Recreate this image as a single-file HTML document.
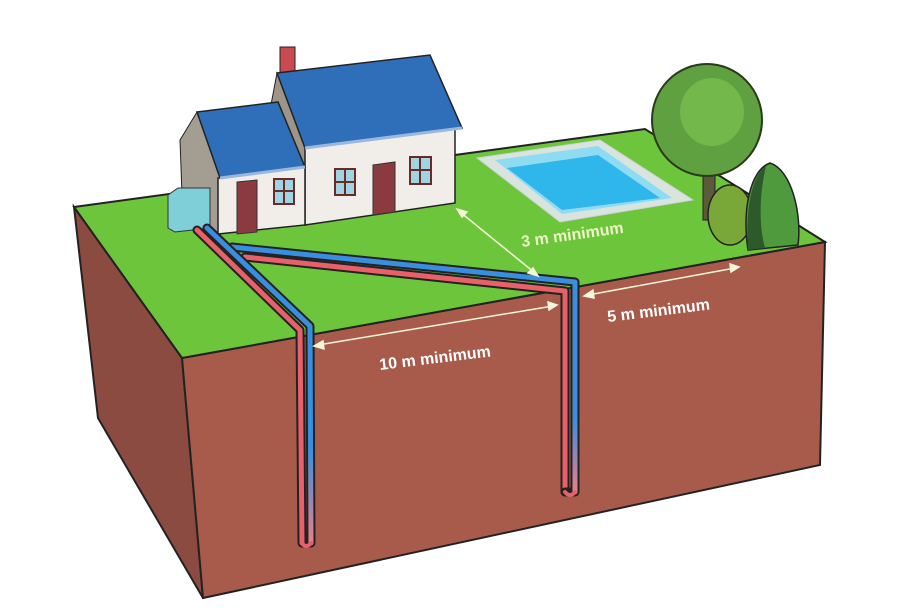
<!DOCTYPE html>
<html><head><style>html,body{margin:0;padding:0;background:#fff}svg{display:block}</style></head>
<body>
<svg width="910" height="615" viewBox="0 0 910 615" xmlns="http://www.w3.org/2000/svg">
<defs>
<linearGradient id="bl" x1="0" y1="0" x2="0" y2="1"><stop offset="0.7" stop-color="#3a8ee0"/><stop offset="1" stop-color="#e8808a"/></linearGradient>
</defs>
<!-- block -->
<polygon points="74,207 98,418 203,598 182,358" fill="#8c4b40" stroke="#222" stroke-width="2"/>
<polygon points="182,358 825,242 820,465 203,598" fill="#a85b4b" stroke="#222" stroke-width="2"/>
<polygon points="74,207 645,129 825,242 182,358" fill="#6cc53a" stroke="#222" stroke-width="2"/>
<!-- pool -->
<polygon points="477,158 600,140 693,200 560,222" fill="#d9e4df" stroke="#c9d2cf"/>
<polygon points="495,160 598,146 672,198 562,214" fill="#8fdcf2"/>
<polygon points="507,168 598,155 660,198 562,210" fill="#2fb6ea"/>
<!-- tree -->
<rect x="703" y="170" width="12" height="50" fill="#5d5a3a" stroke="#222"/>
<ellipse cx="707" cy="120" rx="55" ry="56" fill="#5fa040" stroke="#2a3a1a" stroke-width="2"/>
<ellipse cx="712" cy="112" rx="32" ry="34" fill="#72b84a"/>
<ellipse cx="730" cy="215" rx="22" ry="30" fill="#7aa838" stroke="#222" stroke-width="1.5"/>
<path d="M748,250 C742,210 750,170 770,163 C792,170 802,215 798,245 Z" fill="#4f9a3c" stroke="#222" stroke-width="1.5"/>
<path d="M748,250 C745,210 752,175 766,166 C758,200 760,230 765,248 Z" fill="#2d5a2a"/>
<!-- house main -->
<polygon points="277,73 305,148 305,225 276,215 270,110" fill="#9d9587" stroke="#222"/>
<rect x="280" y="47" width="15" height="28" fill="#c94a50" stroke="#222"/>
<polygon points="305,148 455,128 455,203 305,225" fill="#f1ede8" stroke="#222" stroke-width="1.5"/>
<polygon points="277,73 430,55 462,128 305,148" fill="#2f6fba" stroke="#222" stroke-width="1.5"/>
<line x1="305" y1="148" x2="462" y2="128" stroke="#9ab8dc" stroke-width="3"/>
<!-- left wing -->
<polygon points="180,140 197,112 220,178 220,233 183,222" fill="#a39d92" stroke="#222"/>
<polygon points="218,178 305,167 305,225 218,234" fill="#f1ede8" stroke="#222" stroke-width="1.5"/>
<polygon points="197,112 278,102 305,167 220,178" fill="#2f6fba" stroke="#222" stroke-width="1.5"/>
<line x1="220" y1="178" x2="305" y2="167" stroke="#9ab8dc" stroke-width="3"/>
<!-- doors windows -->
<polygon points="237,182 257,180 257,232 237,234" fill="#8b3a40" stroke="#333"/>
<polygon points="373,165 395,162 395,212 373,215" fill="#8b3a40" stroke="#333"/>
<g fill="#9fd4e0" stroke="#6a2a2a" stroke-width="2">
<rect x="274" y="179" width="20" height="25"/><rect x="335" y="169" width="20" height="26"/><rect x="410" y="157" width="21" height="27"/>
</g>
<g stroke="#6a2a2a" stroke-width="2">
<line x1="284" y1="179" x2="284" y2="204"/><line x1="274" y1="191" x2="294" y2="191"/>
<line x1="345" y1="169" x2="345" y2="195"/><line x1="335" y1="182" x2="355" y2="182"/>
<line x1="420" y1="157" x2="420" y2="184"/><line x1="410" y1="170" x2="431" y2="170"/>
</g>
<!-- unit -->
<polygon points="168,195 178,188 210,188 210,228 175,232 168,228" fill="#7fcfd8" stroke="#333"/>
<!-- pipes -->
<g fill="none" stroke-linejoin="round" stroke-linecap="round">
<path d="M245,257 L565,291 L565,492" stroke="#222" stroke-width="9"/>
<path d="M245,257 L565,291 L565,492" stroke="#e8606a" stroke-width="5"/>
<path d="M232,247 L575,282 L575,492 L565,492" stroke="#222" stroke-width="9"/>
<path d="M232,247 L575,282 L575,492" stroke="url(#bl)" stroke-width="5"/>
<path d="M197,230 L300,330 L302,543 L310,543" stroke="#222" stroke-width="9"/>
<path d="M197,230 L300,330 L302,543" stroke="#e8606a" stroke-width="5"/>
<path d="M207,228 L310,326 L311,543" stroke="#222" stroke-width="9"/>
<path d="M207,228 L310,326 L311,543" stroke="url(#bl)" stroke-width="5"/>
<path d="M302,543 Q306,549 311,543" stroke="#e8606a" stroke-width="4"/>
<path d="M565,492 Q570,498 575,492" stroke="#e8606a" stroke-width="4"/>
</g>
<!-- arrows -->
<g stroke="#f4f6d8" stroke-width="1.5" fill="#f4f6d8">
<line x1="460" y1="212" x2="535" y2="273"/>
<polygon points="457,209 467,212 462,217"/><polygon points="538,276 528,273 533,268"/>
<line x1="588" y1="295" x2="735" y2="268"/>
<polygon points="584,296 593,290 594,298"/><polygon points="739,267 730,264 731,272"/>
<line x1="318" y1="345" x2="553" y2="306"/>
<polygon points="314,346 323,341 324,349"/><polygon points="557,305 548,302 549,310"/>
</g>
<g font-family="Liberation Sans, sans-serif" font-weight="bold" font-size="16">
<text x="522" y="247" fill="#eef6c8" transform="rotate(-8 522 247)">3 m minimum</text>
<text x="608" y="322" fill="#fff" transform="rotate(-7 608 322)">5 m minimum</text>
<text x="380" y="370" fill="#fff" transform="rotate(-7 380 370)">10 m minimum</text>
</g>
</svg>
</body></html>
